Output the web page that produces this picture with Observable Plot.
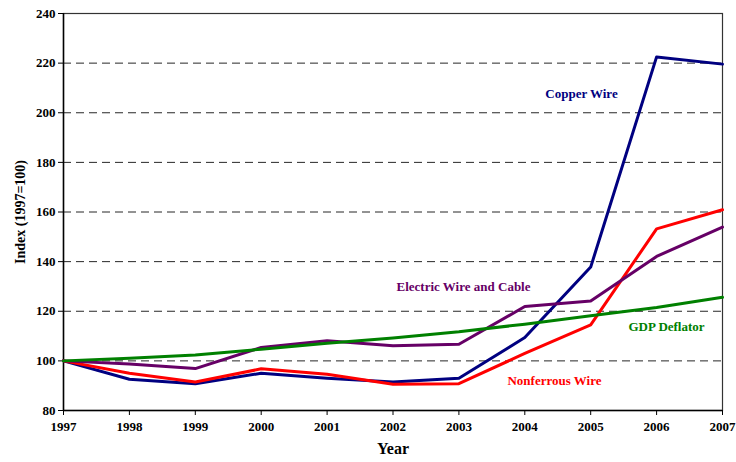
<!DOCTYPE html>
<html>
<head>
<meta charset="utf-8">
<script src="https://cdn.jsdelivr.net/npm/d3@7"></script>
<script src="https://cdn.jsdelivr.net/npm/@observablehq/plot@0.6"></script>
<style>
  html, body { margin: 0; padding: 0; background: #fff; }
  #chart svg { display: block; }
</style>
</head>
<body>
<div id="chart"></div>
<script>
const years = [1997, 1998, 1999, 2000, 2001, 2002, 2003, 2004, 2005, 2006, 2007];
const copperWire = [100, 92.6, 90.8, 95.0, 93.0, 91.5, 93.0, 109.4, 137.8, 222.5, 219.6];
const nonferrousWire = [100, 95.0, 91.5, 96.8, 94.6, 90.6, 90.8, 103.0, 114.5, 153.2, 160.9];
const electricWire = [100, 98.7, 96.9, 105.4, 108.1, 106.1, 106.7, 121.9, 124.1, 142.1, 153.9];
const gdpDeflator = [100, 101.1, 102.4, 104.7, 107.1, 109.2, 111.7, 114.8, 118.2, 121.5, 125.6];
const yTicks = [80, 100, 120, 140, 160, 180, 200, 220, 240];
const gridValues = [100, 120, 140, 160, 180, 200, 220];

const seriesNames = ["Copper Wire", "Nonferrous Wire", "Electric Wire and Cable", "GDP Deflator"];
const seriesColors = ["#000080", "#ff0000", "#660066", "#008000"];
const seriesValues = [copperWire, nonferrousWire, electricWire, gdpDeflator];
const labelYears = [2004.86, 2004.45, 2003.07, 2006.15];
const labelValues = [207.5, 91.9, 129.9, 113.7];

const rows = [];
seriesNames.forEach((name, i) => {
  years.forEach((yr, j) => rows.push({series: name, year: yr, value: seriesValues[i][j]}));
});
const labels = seriesNames.map((name, i) => ({series: name, year: labelYears[i], value: labelValues[i]}));

const serif = "Liberation Serif";

const chart = Plot.plot({
  width: 736,
  height: 462,
  marginLeft: 63,
  marginRight: 14,
  marginTop: 13,
  marginBottom: 52,
  style: {fontFamily: serif, fontWeight: "bold", fontSize: "12px", color: "#000", background: "#fff"},
  x: {domain: [1997, 2007]},
  y: {domain: [80, 240]},
  color: {domain: seriesNames, range: seriesColors},
  marks: [
    Plot.ruleY(gridValues, {stroke: "#000", strokeDasharray: "8,5", strokeWidth: 1, strokeOpacity: 0.85}),
    Plot.frame({stroke: "#333", strokeWidth: 1.2}),
    Plot.ruleX([1997], {stroke: "#000", strokeWidth: 1.5}),
    Plot.ruleY([80], {stroke: "#000", strokeWidth: 1.5}),
    Plot.axisX({ticks: years, tickFormat: "d", tickSize: 5, tickPadding: 6, fontSize: 13, fontFamily: serif, label: "Year", labelAnchor: "center", labelArrow: "none", labelOffset: 43}),
    Plot.axisY({ticks: yTicks, tickSize: 5, tickPadding: 3, fontSize: 13, fontFamily: serif, label: "Index (1997=100)", labelAnchor: "center", labelArrow: "none", labelOffset: 48}),
    Plot.line(rows, {x: "year", y: "value", z: "series", stroke: "series", strokeWidth: 3}),
    Plot.text(labels, {x: "year", y: "value", text: "series", fill: "series", fontSize: 13, fontWeight: "bold", fontFamily: serif})
  ]
});
chart.querySelectorAll("text").forEach(t => { t.setAttribute("font-family", serif); t.style.fontFamily = "'Liberation Serif', 'DejaVu Serif', serif"; t.style.fontWeight = "bold"; });
chart.querySelectorAll("g").forEach(g => { if (g.getAttribute("font-family")) g.setAttribute("font-family", serif); });
chart.querySelectorAll("g[aria-label='x-axis label'] text").forEach(t => t.setAttribute("font-size", "16"));
chart.querySelectorAll("g[aria-label='y-axis label'] text").forEach(t => t.setAttribute("font-size", "14"));
document.getElementById("chart").appendChild(chart);
</script>
</body>
</html>
